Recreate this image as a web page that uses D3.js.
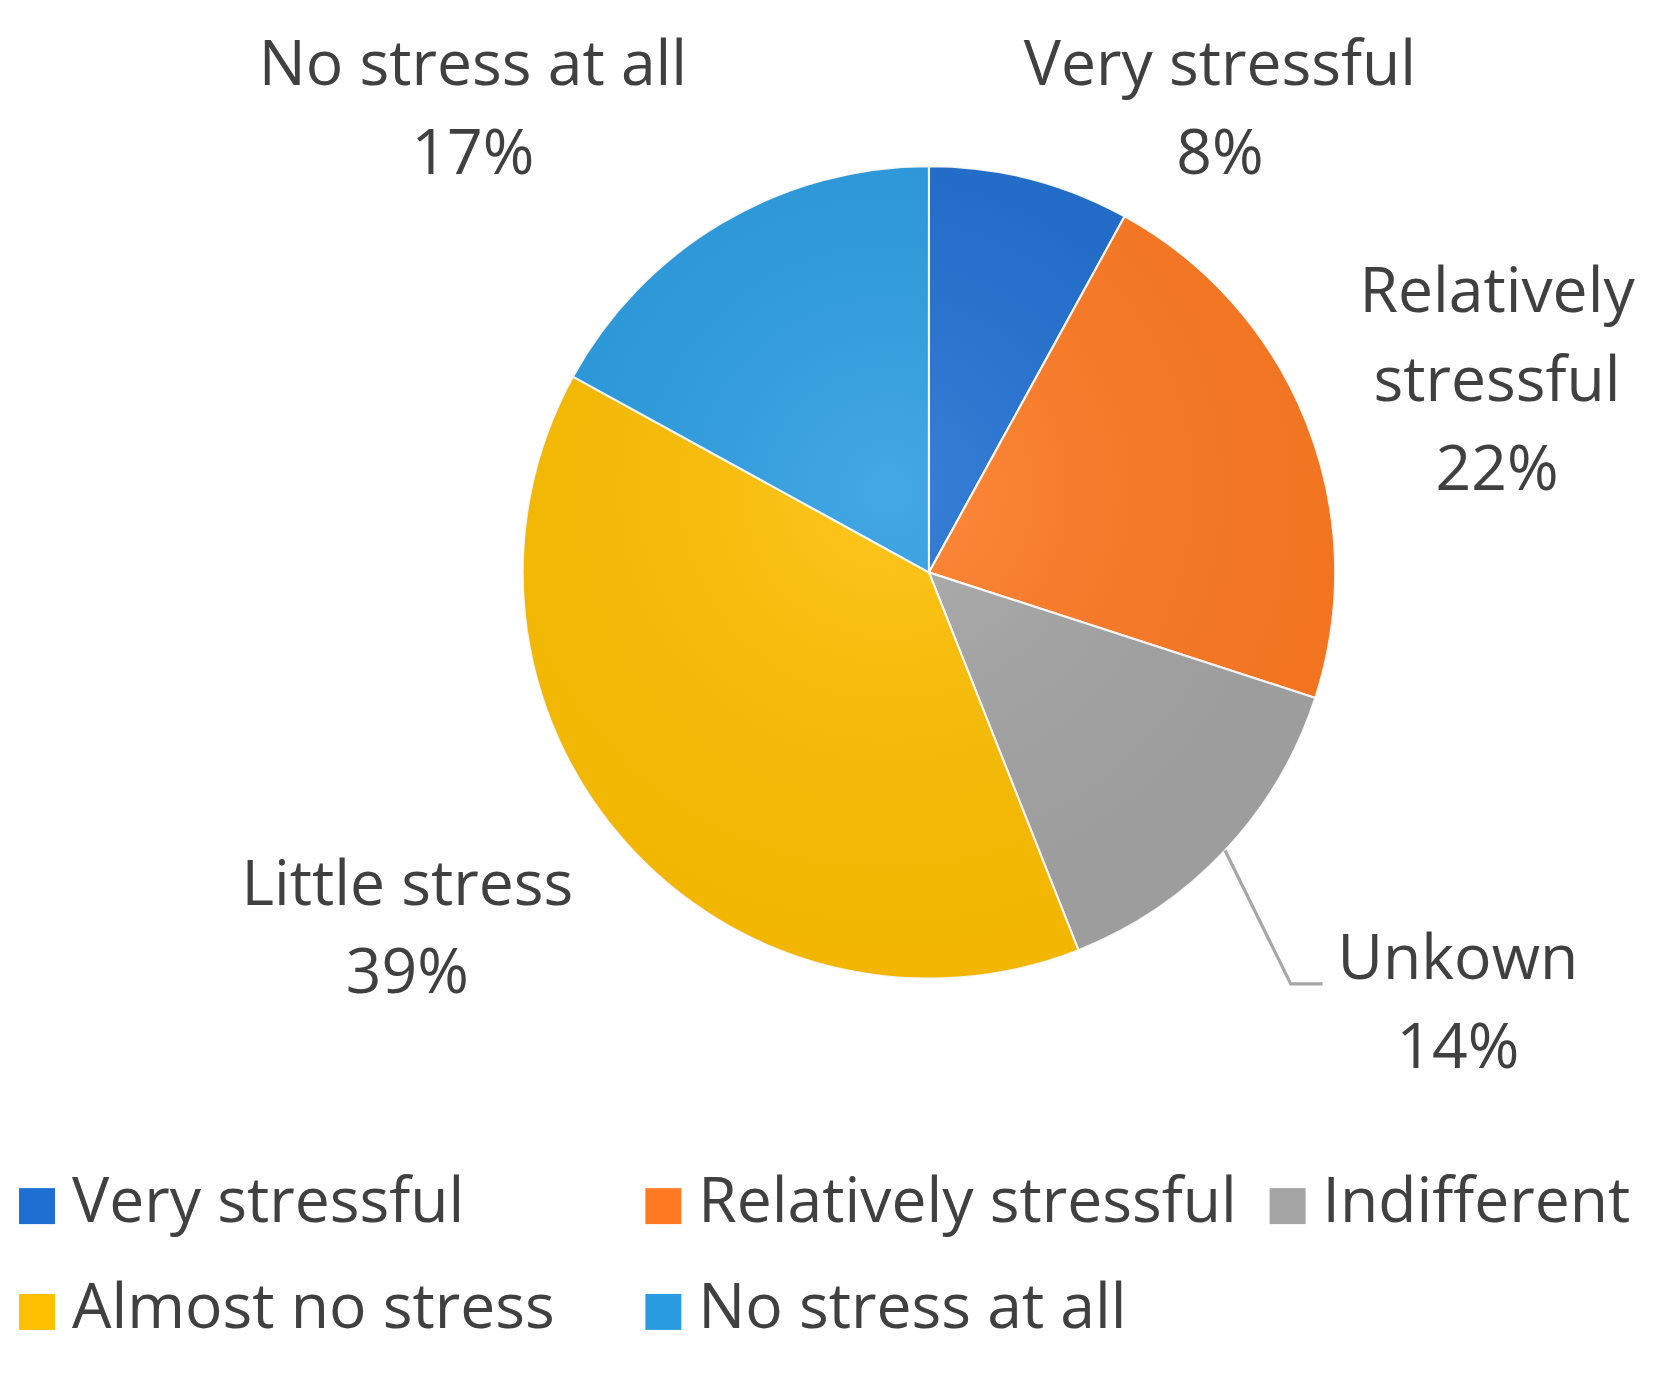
<!DOCTYPE html>
<html><head><meta charset="utf-8">
<script src="https://cdn.jsdelivr.net/npm/d3@7"></script>
<style>body{margin:0;background:#fff}</style>
</head><body>
<svg id="chart" width="1654" height="1381"></svg>
<script>
// slices, clockwise from 12 o'clock
const sliceNames = ['Very stressful', 'Relatively stressful', 'Unkown', 'Little stress', 'No stress at all'];
const sliceValues = [8, 22, 14, 39, 17];
const sliceColors = ['#1f6fd2', '#ff7a22', '#a5a5a5', '#ffc000', '#2a9de2'];
// label lines (text) per slice
const sliceLabels = [['Very stressful'], ['Relatively', 'stressful'], ['Unkown'], ['Little stress'], ['No stress at all']];
const legendNames = ['Very stressful', 'Relatively stressful', 'Indifferent', 'Almost no stress', 'No stress at all'];

const k = 1.058; // layout measured at 0.945 scale
const cx = 878, cy = 541, radius = 384;
const labelPos = [[1153, 80], [1415, 295], [1378, 925], [385, 855], [447, 80]];
const lineH = 84;
const fontSize = 59;

const svg = d3.select('#chart');
const root = svg.append('g').attr('transform', `scale(${k})`);
const g = root.append('g').attr('transform', `translate(${cx},${cy})`);
const pie = d3.pie().sort(null).value(d => d);
const arc = d3.arc().innerRadius(0).outerRadius(radius);
const arcs = pie(sliceValues);

g.selectAll('path').data(arcs).join('path')
  .attr('d', arc)
  .attr('fill', (d, i) => sliceColors[i])
  .attr('stroke', '#fff').attr('stroke-width', 2);

// subtle shading overlay
const defs = svg.append('defs');
const rg = defs.append('radialGradient').attr('id', 'shade').attr('cx', '45%').attr('cy', '40%').attr('r', '60%');
rg.append('stop').attr('offset', '0%').attr('stop-color', '#fff').attr('stop-opacity', 0.12);
rg.append('stop').attr('offset', '100%').attr('stop-color', '#000').attr('stop-opacity', 0.05);
g.append('circle').attr('r', radius).attr('fill', 'url(#shade)').attr('pointer-events', 'none');

// leader line for the Unkown slice
const outer = d3.arc().innerRadius(radius).outerRadius(radius);
const p = outer.centroid(arcs[2]);
root.append('polyline')
  .attr('points', `${cx + p[0]},${cy + p[1]} ${labelPos[2][0] - 158},${labelPos[2][1] + 5} ${labelPos[2][0] - 128},${labelPos[2][1] + 5}`)
  .attr('fill', 'none').attr('stroke', '#a6a6a6').attr('stroke-width', 3);

const font = "'Open Sans', 'Liberation Sans', sans-serif";
arcs.forEach((d, i) => {
  const lines = sliceLabels[i].concat([sliceValues[i] + '%']);
  const t = root.append('text').attr('text-anchor', 'middle')
    .attr('font-family', font).attr('font-size', fontSize).attr('fill', '#404040');
  lines.forEach((l, j) => t.append('tspan')
    .attr('x', labelPos[i][0]).attr('y', labelPos[i][1] + j * lineH).text(l));
});

// legend
const legX = [18, 610, 1200], legY = [1137, 1237];
legendNames.forEach((n, i) => {
  const x = legX[i % 3], y = legY[Math.floor(i / 3)];
  root.append('rect').attr('x', x).attr('y', y - 14).attr('width', 34).attr('height', 34)
    .attr('fill', sliceColors[i]);
  root.append('text').attr('x', x + 50).attr('y', y + 18)
    .attr('font-family', font).attr('font-size', fontSize).attr('fill', '#404040').text(n);
});
</script>
</body></html>
